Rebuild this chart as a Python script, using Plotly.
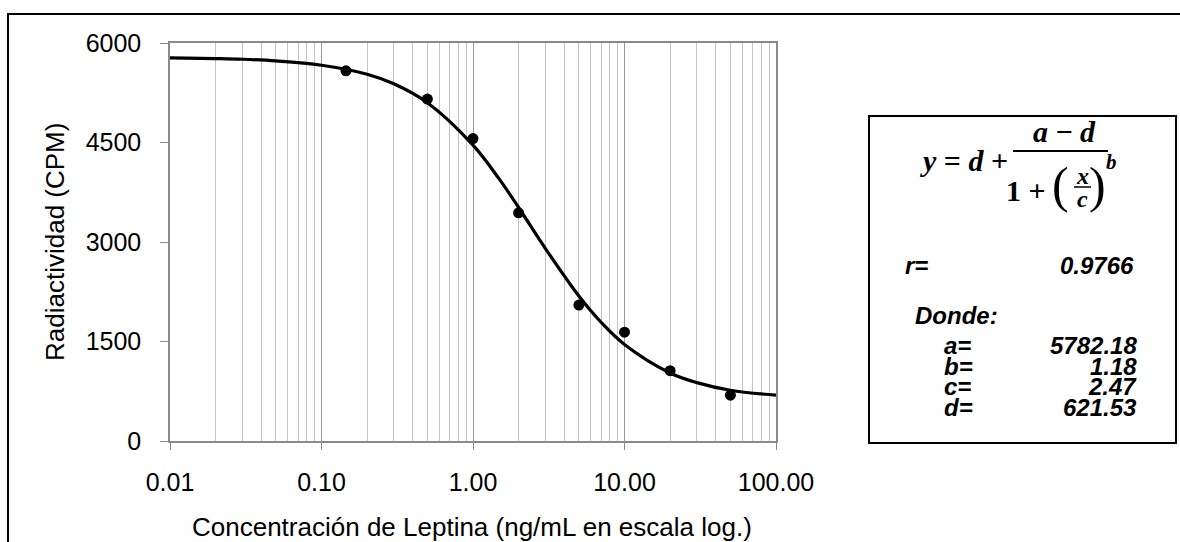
import plotly.graph_objects as go

# ---------------- data ----------------
conc = [0.145, 0.5, 1, 2, 5, 10, 20, 50]
cpm = [5580, 5155, 4560, 3440, 2050, 1640, 1060, 690]

curve_x = [0.01, 0.02, 0.03, 0.05, 0.1, 0.2, 0.3, 0.5, 1, 1.5, 2, 3, 5, 7,
           10, 20, 30, 50, 100]
curve_y = [5775, 5765, 5755, 5730, 5665, 5530, 5385, 5100, 4460, 3940, 3520,
           2905, 2185, 1790, 1455, 1025, 880, 765, 690]

x_tickvals = [0.01, 0.1, 1, 10, 100]
x_ticktext = ["0.01", "0.10", "1.00", "10.00", "100.00"]
x_minor = [m * 10 ** e for e in range(-2, 2) for m in range(2, 10)]
y_tickvals = [0, 1500, 3000, 4500, 6000]

r_label = "r="
r_value = "0.9766"
param_names = ["a=", "b=", "c=", "d="]
param_values = ["5782.18", "1.18", "2.47", "621.53"]

x_title = "Concentración de Leptina (ng/mL en escala log.)"
y_title = "Radiactividad (CPM)"

# ---------------- layout helpers (pixel -> paper) ----------------
W, H = 1180, 542
PL, PR, PT, PB = 170, 776, 43, 441


def px(x):
    return (x - PL) / (PR - PL)


def py(y):
    return (PB - y) / (PB - PT)


SANS = "Liberation Sans, Arial, sans-serif"
SERIF = "Liberation Serif, Times New Roman, serif"

fig = go.Figure()

fig.add_trace(go.Scatter(
    x=curve_x, y=curve_y, mode="lines",
    line=dict(color="black", width=3.2, shape="spline", smoothing=1.0),
    hoverinfo="skip", showlegend=False))

fig.add_trace(go.Scatter(
    x=conc, y=cpm, mode="markers",
    marker=dict(color="black", size=11, symbol="circle"),
    showlegend=False))

fig.update_layout(
    width=W, height=H,
    margin=dict(l=PL, r=W - PR, t=PT, b=H - PB, pad=0),
    paper_bgcolor="white", plot_bgcolor="white",
    font=dict(family=SANS, color="black", size=25),
    showlegend=False,
)

fig.update_xaxes(
    type="log", range=[-2, 2],
    tickvals=x_tickvals, ticktext=x_ticktext,
    ticks="outside", ticklen=7, tickcolor="#8a8a8a", tickwidth=1,
    showgrid=True, gridcolor="#9a9a9a", gridwidth=1,
    minor=dict(tickmode="array", tickvals=x_minor, showgrid=True,
               gridcolor="#c4c4c4", gridwidth=1, ticks=""),
    showline=True, linecolor="#8a8a8a", linewidth=1.5, mirror=True,
    tickfont=dict(size=25, family=SANS, color="black"),
    ticklabelstandoff=11, zeroline=False,
)
fig.update_yaxes(
    range=[0, 6000], tickvals=y_tickvals,
    ticks="outside", ticklen=8, tickcolor="#8a8a8a", tickwidth=1,
    showgrid=False, zeroline=False,
    showline=True, linecolor="#8a8a8a", linewidth=1.5, mirror=True,
    tickfont=dict(size=25, family=SANS, color="black"),
    ticklabelstandoff=14,
)

ann = []
# axis titles
ann.append(dict(text=x_title, x=px(472), y=py(527), xanchor="center",
                yanchor="middle", font=dict(size=26, family=SANS)))
ann.append(dict(text=y_title, x=px(55), y=py(242), xanchor="center",
                yanchor="middle", textangle=-90, font=dict(size=26, family=SANS)))

# equation
EQ = 30
ann.append(dict(text="<b><i>y</i> = <i>d</i> +</b>", x=px(1010), y=py(160),
                xanchor="right", yanchor="middle",
                font=dict(size=EQ, family=SERIF)))
ann.append(dict(text="<b><i>a</i> − <i>d</i></b>", x=px(1064), y=py(131),
                xanchor="center", yanchor="middle",
                font=dict(size=EQ, family=SERIF)))
ann.append(dict(text="<b>1 +</b>", x=px(1048), y=py(191),
                xanchor="right", yanchor="middle",
                font=dict(size=EQ, family=SERIF)))
ann.append(dict(text="(", x=px(1060), y=py(185), xanchor="center",
                yanchor="middle", font=dict(size=50, family=SERIF)))
ann.append(dict(text=")", x=px(1097), y=py(185), xanchor="center",
                yanchor="middle", font=dict(size=50, family=SERIF)))
ann.append(dict(text="<b><i>x</i></b>", x=px(1082), y=py(176), xanchor="center",
                yanchor="middle", font=dict(size=24, family=SERIF)))
ann.append(dict(text="<b><i>c</i></b>", x=px(1082), y=py(199), xanchor="center",
                yanchor="middle", font=dict(size=24, family=SERIF)))
ann.append(dict(text="<b><i>b</i></b>", x=px(1111), y=py(162), xanchor="center",
                yanchor="middle", font=dict(size=21, family=SERIF)))

# r and parameters
BOX = 24
ann.append(dict(text="<b><i>" + r_label + "</i></b>", x=px(903), y=py(265),
                xanchor="left", yanchor="middle", font=dict(size=BOX, family=SANS)))
ann.append(dict(text="<b><i>" + r_value + "</i></b>", x=px(1136), y=py(265),
                xanchor="right", yanchor="middle", font=dict(size=BOX, family=SANS)))
ann.append(dict(text="<b><i>Donde:</i></b>", x=px(913), y=py(315),
                xanchor="left", yanchor="middle", font=dict(size=BOX, family=SANS)))
row_y = [345, 366, 386, 407]
for name, val, yy in zip(param_names, param_values, row_y):
    ann.append(dict(text="<b><i>" + name + "</i></b>", x=px(942), y=py(yy),
                    xanchor="left", yanchor="middle",
                    font=dict(size=BOX, family=SANS)))
    ann.append(dict(text="<b><i>" + val + "</i></b>", x=px(1139), y=py(yy),
                    xanchor="right", yanchor="middle",
                    font=dict(size=BOX, family=SANS)))

for a in ann:
    a.update(xref="paper", yref="paper", showarrow=False)
fig.update_layout(annotations=ann)

shapes = [
    # outer border of the picture (right/bottom edges are outside the view)
    dict(type="rect", xref="paper", yref="paper",
         x0=px(8), x1=px(1200), y0=py(560), y1=py(14),
         line=dict(color="black", width=2)),
    # equation box
    dict(type="rect", xref="paper", yref="paper",
         x0=px(869), x1=px(1176), y0=py(443), y1=py(116),
         line=dict(color="black", width=2)),
    # main fraction bar
    dict(type="line", xref="paper", yref="paper",
         x0=px(1013), x1=px(1108), y0=py(151), y1=py(151),
         line=dict(color="black", width=2)),
    # small fraction bar
    dict(type="line", xref="paper", yref="paper",
         x0=px(1074), x1=px(1091), y0=py(187), y1=py(187),
         line=dict(color="black", width=1.5)),
]
fig.update_layout(shapes=shapes)

fig.write_html("out.html")
